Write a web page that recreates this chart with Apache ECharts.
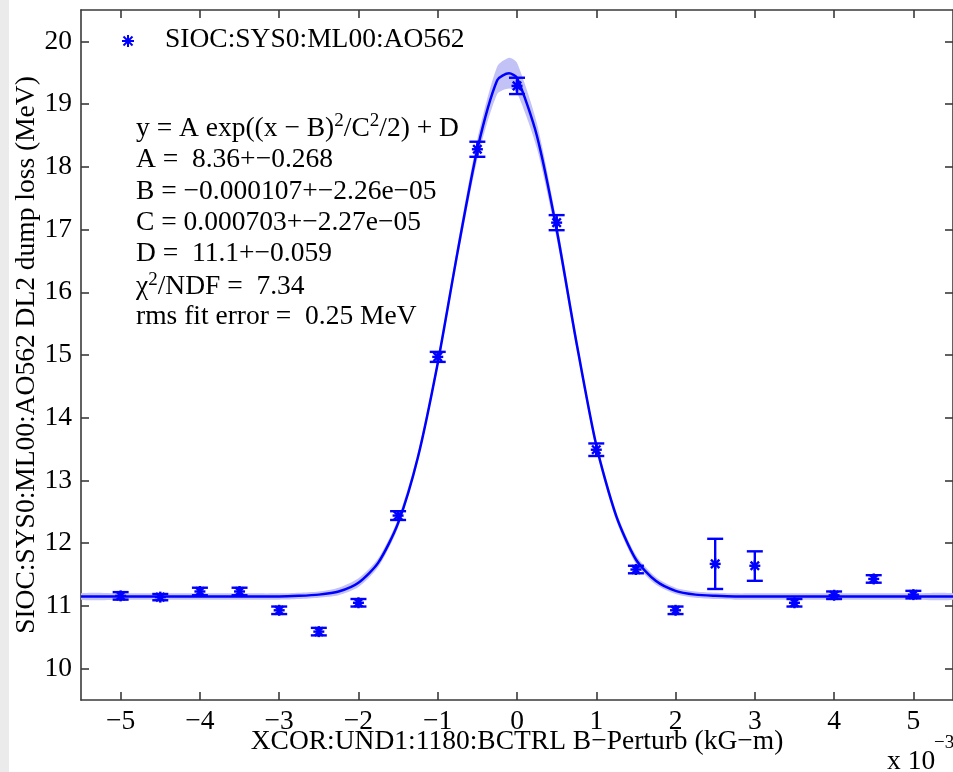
<!DOCTYPE html>
<html><head><meta charset="utf-8">
<script src="https://cdn.jsdelivr.net/npm/echarts@6/dist/echarts.min.js"></script>
<style>html,body{margin:0;padding:0;background:#fff;overflow:hidden}#c{width:953px;height:772px}</style>
</head><body><div id="c"></div>
<script>
// ---- data (x in units of 1e-3 kG-m) ----
const xTicks = [-5, -4, -3, -2, -1, 0, 1, 2, 3, 4, 5];
const yTicks = [10, 11, 12, 13, 14, 15, 16, 17, 18, 19, 20];
const pointX = [-5, -4.5, -4, -3.5, -3, -2.5, -2, -1.5, -1, -0.5, 0, 0.5, 1, 1.5, 2, 2.5, 3, 3.5, 4, 4.5, 5];
const pointY = [11.16, 11.14, 11.23, 11.23, 10.93, 10.59, 11.05, 12.44, 14.97, 18.28, 19.29, 17.11, 13.49, 11.58, 10.93, 11.67, 11.64, 11.05, 11.17, 11.43, 11.18];
const errLow = [11.10, 11.09, 11.17, 11.17, 10.87, 10.53, 10.99, 12.37, 14.89, 18.16, 19.16, 16.99, 13.39, 11.52, 10.87, 11.27, 11.40, 10.99, 11.11, 11.37, 11.12];
const errHigh = [11.22, 11.19, 11.29, 11.29, 10.99, 10.65, 11.11, 12.51, 15.05, 18.40, 19.42, 17.23, 13.59, 11.64, 10.99, 12.07, 11.87, 11.11, 11.23, 11.49, 11.24];
const fitX = [-5.5, -5, -4.5, -4, -3.5, -3, -2.75, -2.5, -2.25, -2, -1.75, -1.5, -1.25, -1, -0.75, -0.5, -0.25, -0.1, 0, 0.25, 0.5, 0.75, 1, 1.25, 1.5, 1.75, 2, 2.25, 2.5, 2.75, 3, 3.5, 4, 4.5, 5, 5.5];
const fitY = [11.15, 11.15, 11.15, 11.15, 11.15, 11.15, 11.16, 11.18, 11.23, 11.37, 11.69, 12.32, 13.37, 14.87, 16.64, 18.28, 19.38, 19.49, 19.42, 18.5, 17.0, 15.2, 13.56, 12.44, 11.74, 11.40, 11.24, 11.18, 11.16, 11.15, 11.15, 11.15, 11.15, 11.15, 11.15, 11.15];
const bandUpper = [11.20, 11.20, 11.20, 11.20, 11.20, 11.20, 11.21, 11.23, 11.29, 11.44, 11.76, 12.39, 13.44, 14.95, 16.75, 18.44, 19.60, 19.74, 19.66, 18.7, 17.14, 15.3, 13.64, 12.51, 11.81, 11.46, 11.29, 11.23, 11.21, 11.20, 11.20, 11.20, 11.20, 11.20, 11.20, 11.20];
const bandLower = [11.10, 11.10, 11.10, 11.10, 11.10, 11.10, 11.11, 11.13, 11.17, 11.30, 11.62, 12.25, 13.30, 14.79, 16.53, 18.12, 19.16, 19.25, 19.18, 18.3, 16.86, 15.1, 13.48, 12.37, 11.67, 11.34, 11.19, 11.13, 11.11, 11.10, 11.10, 11.10, 11.10, 11.10, 11.10, 11.10];
const legendName = 'SIOC:SYS0:ML00:AO562';
const fitLines = [
  '{n|y = A exp((x \u2212 B)}{s|2}{n|/C}{s|2}{n|/2) + D}',
  'A =  8.36+\u22120.268',
  'B = \u22120.000107+\u22122.26e\u221205',
  'C = 0.000703+\u22122.27e\u221205',
  'D =  11.1+\u22120.059',
  '{n|\u03c7}{s|2}{n|/NDF =  7.34}',
  'rms fit error =  0.25 MeV'
];

const FONT = '"Liberation Serif", "Times New Roman", serif';
const FS = 27.5;
const BLUE = '#0000ff';
const AX = '#3a3a3a';

const chart = echarts.init(document.getElementById('c'), null, {renderer: 'canvas'});
const minus = v => String(v).replace('-', '\u2212');

function mkX(pos, showLabel) {
  return {
    type: 'value', min: -5.5, max: 5.5, position: pos,
    axisLine: {show: true, onZero: false, lineStyle: {color: AX, width: 1.6}},
    axisTick: {show: true, inside: true, length: 8, customValues: xTicks, lineStyle: {color: AX, width: 1.6}},
    axisLabel: {show: showLabel, customValues: xTicks, formatter: minus, fontFamily: FONT, fontSize: FS, color: '#000', margin: 8},
    splitLine: {show: false}
  };
}
function mkY(pos, showLabel) {
  return {
    type: 'value', min: 9.5, max: 20.5, position: pos,
    axisLine: {show: true, onZero: false, lineStyle: {color: AX, width: 1.6}},
    axisTick: {show: true, inside: true, length: 8, customValues: yTicks, lineStyle: {color: AX, width: 1.6}},
    axisLabel: {show: showLabel, customValues: yTicks, fontFamily: FONT, fontSize: FS, color: '#000', margin: 9},
    splitLine: {show: false}
  };
}

const pointData = pointX.map((x, i) => [x, pointY[i], errLow[i], errHigh[i]]);

function starLines(cx, cy, r, d) {
  return [
    [cx, cy - r, cx, cy + r],
    [cx - r, cy, cx + r, cy],
    [cx - d, cy - d, cx + d, cy + d],
    [cx - d, cy + d, cx + d, cy - d]
  ];
}

const richT = {n: {fontFamily: FONT, fontSize: FS, color: '#000'}, s: {fontFamily: FONT, fontSize: 19, color: '#000', verticalAlign: 'top', padding: [0, 0, 14, 0]}};

const lineTop = [112, 146, 178, 209, 240, 270.5, 303];
const textGraphics = fitLines.map((t, i) => ({
  type: 'text', left: 136, top: lineTop[i],
  style: {text: t, font: FS + 'px ' + FONT, fill: '#000', rich: richT}
}));

const legendStar = starLines(128, 41, 6, 4.5).map(l => ({
  type: 'line', shape: {x1: l[0], y1: l[1], x2: l[2], y2: l[3]}, style: {stroke: BLUE, lineWidth: 2}
}));

chart.setOption({
  animation: false,
  backgroundColor: '#fff',
  grid: {left: 81, top: 10, width: 874, height: 690, containLabel: false},
  xAxis: [mkX('bottom', true), mkX('top', false)],
  yAxis: [mkY('left', true), mkY('right', false)],
  series: [
    {
      type: 'custom', coordinateSystem: 'cartesian2d', xAxisIndex: 0, yAxisIndex: 0, clip: true, z: 1,
      data: [[0, 15]],
      renderItem: function (params, api) {
        const pts = [];
        for (let i = 0; i < fitX.length; i++) pts.push(api.coord([fitX[i], bandUpper[i]]));
        for (let i = fitX.length - 1; i >= 0; i--) pts.push(api.coord([fitX[i], bandLower[i]]));
        return {type: 'polygon', shape: {points: pts, smooth: 0.25}, style: {fill: '#c2c2f6'}};
      }
    },
    {
      type: 'line', xAxisIndex: 0, yAxisIndex: 0, z: 2,
      data: fitX.map((x, i) => [x, fitY[i]]),
      smooth: 0.25, showSymbol: false, symbol: 'none',
      lineStyle: {color: BLUE, width: 2.5}
    },
    {
      type: 'custom', coordinateSystem: 'cartesian2d', xAxisIndex: 0, yAxisIndex: 0, z: 3,
      data: pointData,
      encode: {x: 0, y: [1, 2, 3]},
      renderItem: function (params, api) {
        const x = api.value(0), y = api.value(1), lo = api.value(2), hi = api.value(3);
        const p = api.coord([x, y]);
        const pl = api.coord([x, lo]);
        const ph = api.coord([x, hi]);
        const cw = 8;
        const segs = [
          [p[0], pl[1], p[0], ph[1]],
          [p[0] - cw, pl[1], p[0] + cw, pl[1]],
          [p[0] - cw, ph[1], p[0] + cw, ph[1]]
        ].concat(starLines(p[0], p[1], 5.5, 4.2));
        return {
          type: 'group',
          children: segs.map(s => ({type: 'line', shape: {x1: s[0], y1: s[1], x2: s[2], y2: s[3]}, style: {stroke: BLUE, lineWidth: 2.4}}))
        };
      }
    }
  ],
  graphic: [
    {type: 'rect', left: 0, top: 0, shape: {width: 9, height: 772}, style: {fill: '#ebebeb'}, z: -10},
    ...legendStar,
    {type: 'text', left: 165, top: 26, style: {text: legendName, font: FS + 'px ' + FONT, fill: '#000'}},
    ...textGraphics,
    {type: 'text', x: 27, y: 355, rotation: Math.PI / 2, style: {text: 'SIOC:SYS0:ML00:AO562 DL2 dump loss (MeV)', font: FS + 'px ' + FONT, fill: '#000', align: 'center', verticalAlign: 'middle'}},
    {type: 'text', x: 517, y: 742, style: {text: 'XCOR:UND1:1180:BCTRL B\u2212Perturb (kG\u2212m)', font: FS + 'px ' + FONT, fill: '#000', align: 'center', verticalAlign: 'middle'}},
    {type: 'text', x: 887, y: 762, style: {text: 'x 10', font: FS + 'px ' + FONT, fill: '#000', align: 'left', verticalAlign: 'middle'}},
    {type: 'text', x: 934, y: 743, style: {text: '\u22123', font: '19px ' + FONT, fill: '#000', align: 'left', verticalAlign: 'middle'}}
  ]
});
</script></body></html>
